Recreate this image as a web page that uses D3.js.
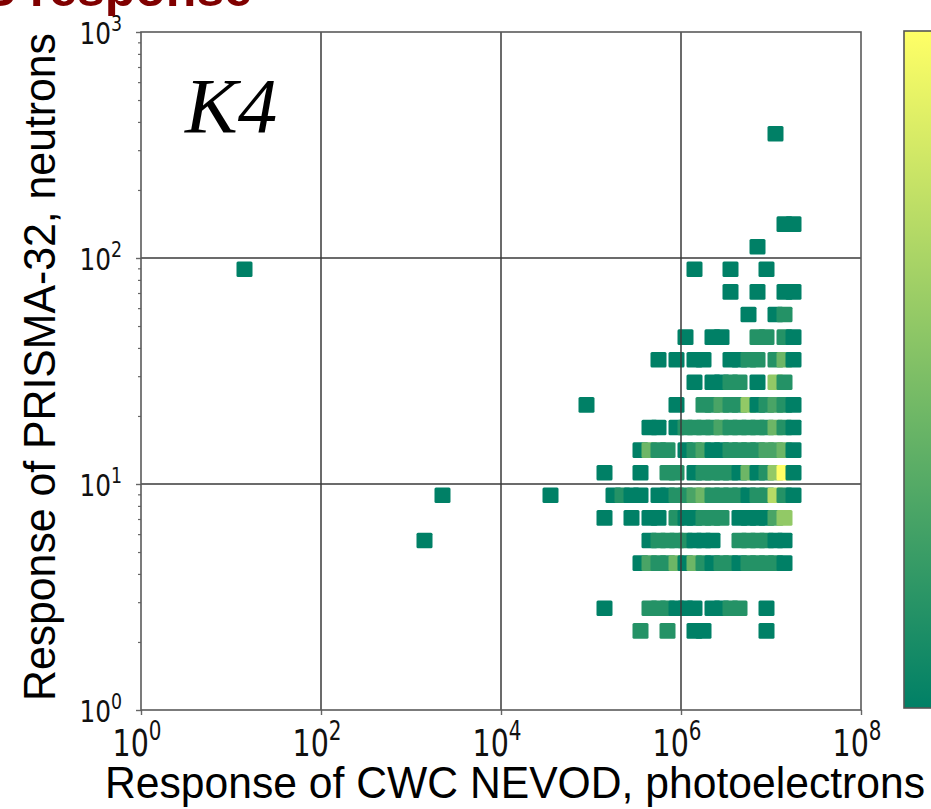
<!DOCTYPE html>
<html>
<head>
<meta charset="utf-8">
<script src="https://cdn.jsdelivr.net/npm/d3@7"></script>
<style>
  html, body { margin: 0; padding: 0; background: #fff; }
  svg { display: block; }
</style>
</head>
<body>
<div id="chart"></div>
<script>
// log10 of the neutron bin centre, one entry per row of cells
const rowLogY = [2.55, 2.15, 2.05, 1.95, 1.85, 1.75, 1.65, 1.55, 1.45, 1.35,
                 1.25, 1.15, 1.05, 0.95, 0.85, 0.75, 0.65, 0.45, 0.35];

// log10 of the photoelectron bin centre for every filled cell in the row
const rowLogX = [
    [7.05],
    [7.15, 7.25],
    [6.85],
    [1.15, 6.15, 6.55, 6.95],
    [6.55, 6.85, 7.15, 7.25],
    [6.75, 7.05, 7.15],
    [6.05, 6.35, 6.45, 6.85, 6.95, 7.15, 7.25],
    [5.75, 5.95, 6.15, 6.25, 6.55, 6.65, 6.75, 6.85, 7.05, 7.15, 7.25],
    [6.15, 6.35, 6.45, 6.55, 6.65, 6.85, 7.05, 7.15],
    [4.95, 5.95, 6.25, 6.35, 6.45, 6.55, 6.65, 6.75, 6.85, 6.95, 7.05, 7.15, 7.25],
    [5.65, 5.75, 5.95, 6.05, 6.15, 6.25, 6.35, 6.45, 6.55, 6.65, 6.75, 6.85, 6.95, 7.05, 7.15, 7.25],
    [5.55, 5.65, 5.75, 5.85, 6.05, 6.15, 6.25, 6.35, 6.45, 6.55, 6.65, 6.75, 6.85, 6.95, 7.05, 7.15, 7.25],
    [5.15, 5.55, 5.85, 5.95, 6.15, 6.25, 6.35, 6.45, 6.55, 6.65, 6.75, 6.85, 6.95, 7.05, 7.15, 7.25],
    [3.35, 4.55, 5.25, 5.35, 5.45, 5.55, 5.75, 5.85, 5.95, 6.05, 6.15, 6.25, 6.35, 6.45, 6.55, 6.65, 6.75, 6.85, 6.95, 7.05, 7.15, 7.25],
    [5.15, 5.45, 5.65, 5.75, 5.95, 6.05, 6.15, 6.25, 6.35, 6.45, 6.65, 6.75, 6.85, 6.95, 7.05, 7.15],
    [3.15, 5.65, 5.75, 5.85, 5.95, 6.05, 6.15, 6.25, 6.35, 6.65, 6.75, 6.85, 6.95, 7.05, 7.15],
    [5.55, 5.65, 5.75, 5.85, 5.95, 6.05, 6.15, 6.25, 6.35, 6.45, 6.55, 6.65, 6.75, 6.85, 6.95, 7.05, 7.15],
    [5.15, 5.65, 5.75, 5.85, 5.95, 6.05, 6.15, 6.35, 6.45, 6.55, 6.65, 6.95],
    [5.55, 5.85, 6.15, 6.25, 6.95]
];

// number of events in each of those cells
const rowCounts = [
    [1],
    [1, 1],
    [1],
    [1, 1, 1, 1],
    [1, 1, 1, 1],
    [1, 1, 2],
    [1, 1, 1, 2, 2, 2, 1],
    [1, 1, 1, 1, 1, 1, 2, 2, 2, 4, 1],
    [1, 1, 1, 2, 2, 1, 5, 2],
    [1, 1, 2, 2, 3, 2, 2, 5, 1, 2, 3, 2, 1],
    [1, 1, 1, 2, 2, 2, 2, 3, 2, 2, 2, 2, 2, 4, 2, 1],
    [1, 4, 2, 2, 1, 2, 3, 1, 1, 2, 2, 2, 2, 3, 3, 4, 1],
    [1, 1, 2, 2, 1, 2, 2, 2, 2, 1, 4, 1, 2, 5, 8, 1],
    [1, 1, 1, 2, 1, 1, 1, 1, 2, 2, 3, 4, 2, 2, 2, 2, 1, 2, 2, 6, 2, 1],
    [1, 1, 1, 1, 2, 1, 1, 2, 2, 2, 1, 1, 1, 1, 3, 5],
    [1, 1, 2, 2, 2, 2, 1, 1, 1, 2, 2, 2, 2, 1, 1],
    [1, 3, 2, 2, 4, 1, 4, 2, 1, 2, 2, 1, 2, 2, 2, 2, 1],
    [1, 2, 2, 2, 1, 1, 1, 1, 1, 2, 2, 1],
    [2, 2, 1, 1, 1]
];

const xTickExp = [0, 2, 4, 6, 8];
const yTickExp = [0, 1, 2, 3];
const countRange = [1, 8];

const width = 931, height = 809;
const margin = {top: 32, right: 70, bottom: 99, left: 141};

const svg = d3.select('#chart').append('svg')
    .attr('width', width)
    .attr('height', height);

svg.append('rect').attr('width', width).attr('height', height).attr('fill', '#fff');

// scales
const x = d3.scaleLog().domain([1, 1e8]).range([margin.left, width - margin.right]);
const y = d3.scaleLog().domain([1, 1e3]).range([height - margin.bottom, margin.top]);
// matplotlib "summer" is a straight rgb ramp
const color = d3.scaleLinear().domain(countRange)
    .range(['#008066', '#ffff66'])
    .interpolate(d3.interpolateRgb)
    .clamp(true);

// flatten rows into cells, keep x order so later squares overlap earlier ones
const cells = [];
rowLogY.forEach((ly, r) => {
    rowLogX[r].forEach((lx, k) => {
        cells.push({pe: Math.pow(10, lx), n: Math.pow(10, ly), count: rowCounts[r][k]});
    });
});

const cellW = 16, cellH = 15.6;
svg.append('g')
    .selectAll('rect')
    .data(cells)
    .join('rect')
    .attr('x', d => x(d.pe) - cellW / 2)
    .attr('y', d => y(d.n) - cellH / 2)
    .attr('width', cellW)
    .attr('height', cellH)
    .attr('rx', 1.5)
    .attr('fill', d => color(d.count));

// grid drawn over the cells, like the original
const grid = svg.append('g').attr('stroke', '#3a3a3a').attr('stroke-width', 1.5);
grid.selectAll('.gx')
    .data(xTickExp.slice(1, -1))
    .join('line')
    .attr('x1', d => x(Math.pow(10, d))).attr('x2', d => x(Math.pow(10, d)))
    .attr('y1', margin.top).attr('y2', height - margin.bottom);
grid.selectAll('.gy')
    .data(yTickExp.slice(1, -1))
    .join('line')
    .attr('y1', d => y(Math.pow(10, d))).attr('y2', d => y(Math.pow(10, d)))
    .attr('x1', margin.left).attr('x2', width - margin.right);

// axes: ticks only, labels are drawn by hand to get the superscripts
const minorY = [];
for (let e = 0; e < 3; e++) for (let m = 2; m <= 9; m++) minorY.push(m * Math.pow(10, e));

svg.append('g')
    .attr('transform', `translate(${margin.left},0)`)
    .call(d3.axisLeft(y).tickValues(minorY).tickSize(3).tickFormat(''))
    .call(g => g.select('.domain').remove())
    .call(g => g.selectAll('line').attr('stroke', '#666').attr('stroke-width', 1.2));

svg.append('g')
    .attr('transform', `translate(${margin.left},0)`)
    .call(d3.axisLeft(y).tickValues(yTickExp.map(e => Math.pow(10, e))).tickSize(5).tickFormat(''))
    .call(g => g.select('.domain').remove())
    .call(g => g.selectAll('line').attr('stroke', '#666').attr('stroke-width', 1.4));

svg.append('g')
    .attr('transform', `translate(0,${height - margin.bottom})`)
    .call(d3.axisBottom(x).tickValues(xTickExp.map(e => Math.pow(10, e))).tickSize(5).tickFormat(''))
    .call(g => g.select('.domain').remove())
    .call(g => g.selectAll('line').attr('stroke', '#666').attr('stroke-width', 1.4));

// frame
svg.append('rect')
    .attr('x', margin.left).attr('y', margin.top)
    .attr('width', width - margin.right - margin.left)
    .attr('height', height - margin.bottom - margin.top)
    .attr('fill', 'none')
    .attr('stroke', '#5a5a5a')
    .attr('stroke-width', 1.6);

function powLabel(g, exp, anchor, size) {
    const t = g.append('text')
        .attr('text-anchor', anchor)
        .style('font-family', 'DejaVu Sans, sans-serif')
        .style('font-size', size + 'px')
        .attr('fill', '#111');
    t.append('tspan').text('10');
    t.append('tspan').attr('dy', -size * 0.42).style('font-size', (size * 0.7) + 'px').text(exp);
}

// y tick labels
yTickExp.forEach(e => {
    const g = svg.append('g')
        .attr('transform', `translate(${margin.left - 19},${y(Math.pow(10, e)) + 12}) scale(0.8,1)`);
    powLabel(g, e, 'end', 31);
});

// x tick labels
xTickExp.forEach(e => {
    const g = svg.append('g')
        .attr('transform', `translate(${x(Math.pow(10, e)) - 4},${height - margin.bottom + 46}) scale(0.75,1)`);
    powLabel(g, e, 'middle', 38);
});

// colour bar, clipped by the right edge of the picture
const defs = svg.append('defs');
const grad = defs.append('linearGradient')
    .attr('id', 'cbar')
    .attr('x1', 0).attr('y1', 1).attr('x2', 0).attr('y2', 0);
grad.append('stop').attr('offset', 0).attr('stop-color', color(countRange[0]));
grad.append('stop').attr('offset', 1).attr('stop-color', color(countRange[1]));

svg.append('rect')
    .attr('x', 904).attr('y', 31)
    .attr('width', 40).attr('height', 677)
    .attr('fill', 'url(#cbar)')
    .attr('stroke', '#555')
    .attr('stroke-width', 1.6);

// labels
svg.append('text')
    .attr('x', 185).attr('y', 132)
    .style('font-family', 'Liberation Serif, Times New Roman, serif')
    .style('font-style', 'italic')
    .style('font-size', '79px')
    .text('K4');

svg.append('text')
    .attr('x', 515).attr('y', 798)
    .attr('text-anchor', 'middle')
    .attr('textLength', 820)
    .attr('lengthAdjust', 'spacingAndGlyphs')
    .style('font-family', 'Liberation Sans, Arial, sans-serif')
    .style('font-size', '44px')
    .text('Response of CWC NEVOD, photoelectrons');

svg.append('text')
    .attr('transform', 'translate(55,367) rotate(-90)')
    .attr('text-anchor', 'middle')
    .attr('textLength', 668)
    .attr('lengthAdjust', 'spacingAndGlyphs')
    .style('font-family', 'Liberation Sans, Arial, sans-serif')
    .style('font-size', '44px')
    .text('Response of PRISMA-32, neutrons');

// slide title, cut off by the top edge
svg.append('text')
    .attr('x', 252).attr('y', 6)
    .attr('text-anchor', 'end')
    .style('font-family', 'Liberation Sans, Arial, sans-serif')
    .style('font-weight', 'bold')
    .style('font-size', '50px')
    .attr('fill', '#800000')
    .text('EAS response');
</script>
</body>
</html>
